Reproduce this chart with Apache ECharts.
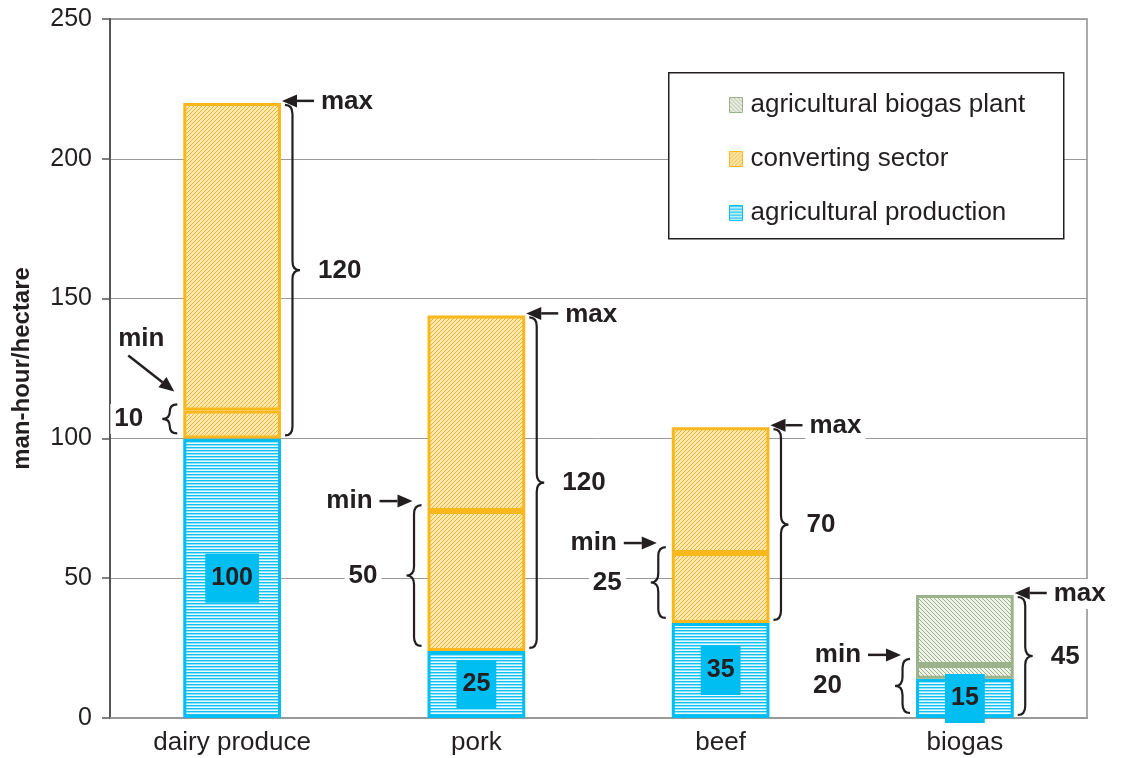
<!DOCTYPE html>
<html>
<head>
<meta charset="utf-8">
<script src="https://cdn.jsdelivr.net/npm/echarts@6/dist/echarts.min.js"></script>
<style>
    html, body { margin: 0; padding: 0; background: #fff; }
    #main { width: 1128px; height: 758px; }
</style>
</head>
<body>
<div id="main"></div>
<script>
// categories and stacked values
var categories = ['dairy produce', 'pork', 'beef', 'biogas'];
var agriProduction = [100, 24, 34, 14];
var convertingMin = [10, 50, 25, '-'];
var convertingRest = [110, 70, 45, '-'];
var biogasPlantMin = ['-', '-', '-', 5];
var biogasPlantRest = ['-', '-', '-', 25];

// texts written on the chart
var agriLabels = ['100', '25', '35', '15'];
var rangeLabels = ['120', '120', '70', '45'];
var minLabels = ['10', '50', '25', '20'];
// where the braces start (value)
var rangeFrom = [100, 24, 34, 0];
var minFrom = [100, 24, 34, 0];
var minArrowStyle = ['diagonal', 'side', 'side', 'side'];
var minLabelGap = [36, 46, 46, 70];

var ink = '#231f20';
var font = '"Liberation Sans", Arial, sans-serif';

function num(v) { return v === '-' ? 0 : v; }
var tops = categories.map(function (c, i) {
    return agriProduction[i] + num(convertingMin[i]) + num(convertingRest[i]) + num(biogasPlantMin[i]) + num(biogasPlantRest[i]);
});
var minVals = categories.map(function (c, i) {
    return agriProduction[i] + num(convertingMin[i]) + num(biogasPlantMin[i]);
});
var notes = categories.map(function (c, i) {
    return [i, tops[i], rangeFrom[i], minVals[i], minFrom[i]];
});

// little hatch patterns
function pattern(w, h, bg, fg, pts) {
    var cv = document.createElement('canvas');
    cv.width = w; cv.height = h;
    var ctx = cv.getContext('2d');
    ctx.fillStyle = bg;
    ctx.fillRect(0, 0, w, h);
    pts.forEach(function (p) {
        ctx.fillStyle = p[2] || fg;
        ctx.fillRect(p[0], p[1], 1, 1);
    });
    return { image: cv, repeat: 'repeat' };
}
var bluePat = pattern(1, 3, '#e6f9fe', '#10c1f2', [[0, 0], [0, 1, '#8fe2f9']]);
var orangePat = pattern(4, 4, '#fde8b6', '#f6b41f', [[0, 3], [1, 2], [2, 1], [3, 0]]);
var greenPat = pattern(4, 4, '#eef2e8', '#9cb08c', [[0, 0], [1, 1], [2, 2], [3, 3]]);

var blueBorder = '#00bdf2';
var orangeBorder = '#fbb81c';
var greenBorder = '#9bb28a';

function barSeries(name, data, fill, border) {
    return {
        name: name,
        type: 'bar',
        stack: 'total',
        barWidth: '40%',
        data: data,
        itemStyle: { color: fill, borderColor: border, borderWidth: 3 }
    };
}

// helpers for the annotations
function arrow(x1, y1, x2, y2) {
    var dx = x2 - x1, dy = y2 - y1, len = Math.sqrt(dx * dx + dy * dy);
    var ux = dx / len, uy = dy / len;
    var bx = x2 - ux * 15, by = y2 - uy * 15;
    return [
        { type: 'line', shape: { x1: x1, y1: y1, x2: bx, y2: by }, style: { stroke: ink, lineWidth: 2.5 } },
        { type: 'polygon', shape: { points: [[x2, y2], [bx - uy * 6.5, by + ux * 6.5], [bx + uy * 6.5, by - ux * 6.5]] }, style: { fill: ink } }
    ];
}
function brace(x, y1, y2, w, dir) {
    var r = Math.min(9, (y2 - y1) / 4);
    var m = x + dir * w / 2, t = x + dir * w, ym = (y1 + y2) / 2;
    var d = 'M' + x + ',' + y1 + ' Q' + m + ',' + y1 + ' ' + m + ',' + (y1 + r) +
        ' L' + m + ',' + (ym - r) + ' Q' + m + ',' + ym + ' ' + t + ',' + ym +
        ' Q' + m + ',' + ym + ' ' + m + ',' + (ym + r) +
        ' L' + m + ',' + (y2 - r) + ' Q' + m + ',' + y2 + ' ' + x + ',' + y2;
    return { type: 'path', shape: { pathData: d }, style: { fill: 'none', stroke: ink, lineWidth: 2.2 } };
}
function label(text, x, y, align) {
    return {
        type: 'text',
        style: {
            text: text, x: x, y: y, align: align, verticalAlign: 'middle',
            font: 'bold 26px ' + font, fill: ink,
            backgroundColor: '#fff', padding: [2, 4]
        }
    };
}

function renderNotes(params, api) {
    var i = params.dataIndex;
    var c = api.coord([api.value(0), api.value(1)]);
    var half = api.size([1, 0])[0] * 0.2;
    var left = c[0] - half, right = c[0] + half, yTop = c[1];
    var yFrom = api.coord([api.value(0), api.value(2)])[1];
    var yMin = api.coord([api.value(0), api.value(3)])[1];
    var yMinFrom = api.coord([api.value(0), api.value(4)])[1];
    var kids = [];
    kids = kids.concat(arrow(right + 33, yTop - 2, right + 1, yTop - 2));
    kids.push(label('max', right + 36, yTop - 1, 'left'));
    kids.push(brace(right + 4, yTop + 2, yFrom - 3, 15, 1));
    kids.push(label(rangeLabels[i], right + 33, (yTop + yFrom) / 2, 'left'));
    var b1 = yMin - 6, b2 = yMinFrom - 5;
    kids.push(brace(left - 6, b1, b2, 15, -1));
    kids.push(label(minLabels[i], left - minLabelGap[i], (b1 + b2) / 2, 'right'));
    if (minArrowStyle[i] === 'diagonal') {
        kids = kids.concat(arrow(left - 55, yMin - 55, left - 9, yMin - 19));
        kids.push(label('min', left - 42, yMin - 72, 'center'));
    } else {
        kids = kids.concat(arrow(left - 48, yMin - 10, left - 15, yMin - 10));
        kids.push(label('min', left - 51, yMin - 10, 'right'));
    }
    return { type: 'group', children: kids };
}

var myChart = echarts.init(document.getElementById('main'));
myChart.setOption({
    backgroundColor: '#fff',
    animation: false,
    grid: {
        left: 110, right: 41, top: 19, bottom: 40,
        show: true, borderColor: '#aaa', borderWidth: 2,
        outerBoundsMode: 'none'
    },
    legend: {
        orient: 'vertical',
        left: 724, top: 87,
        icon: 'rect',
        itemWidth: 13, itemHeight: 15,
        itemGap: 28,
        selectedMode: false,
        itemStyle: { borderWidth: 1 },
        textStyle: { fontSize: 26, color: ink, fontFamily: font, padding: [0, 0, 0, 3] },
        data: ['agricultural biogas plant', 'converting sector', 'agricultural production']
    },
    graphic: [{
        type: 'rect', left: 668, top: 72, z: 3,
        shape: { width: 395, height: 166 },
        style: { fill: '#fff', stroke: ink, lineWidth: 1.5 }
    }],
    xAxis: {
        type: 'category',
        data: categories,
        axisLine: { lineStyle: { color: '#999', width: 2 } },
        axisTick: { show: false },
        axisLabel: { fontSize: 26, color: ink, fontFamily: font, margin: 12 }
    },
    yAxis: {
        type: 'value',
        min: 0, max: 250, interval: 50,
        name: 'man-hour/hectare',
        nameLocation: 'middle',
        nameGap: 76,
        nameTextStyle: { fontSize: 24, fontWeight: 'bold', color: ink, fontFamily: font },
        axisLine: { show: true, lineStyle: { color: '#555', width: 2 } },
        axisTick: { show: true, length: 8, lineStyle: { color: '#555', width: 1.5 } },
        axisLabel: { fontSize: 25, color: ink, fontFamily: font, margin: 18 },
        splitLine: { lineStyle: { color: '#999', width: 1 } }
    },
    series: [
        Object.assign(barSeries('agricultural production', agriProduction, bluePat, blueBorder), {
            label: {
                show: true, position: 'inside',
                formatter: function (p) { return agriLabels[p.dataIndex]; },
                fontSize: 25, fontWeight: 'bold', color: ink, fontFamily: font,
                backgroundColor: '#00bdf2', padding: [12, 6]
            }
        }),
        barSeries('converting sector', convertingMin, orangePat, orangeBorder),
        barSeries('converting sector', convertingRest, orangePat, orangeBorder),
        barSeries('agricultural biogas plant', biogasPlantMin, greenPat, greenBorder),
        barSeries('agricultural biogas plant', biogasPlantRest, greenPat, greenBorder),
        {
            type: 'custom',
            z: 6,
            clip: false,
            silent: true,
            renderItem: renderNotes,
            data: notes
        }
    ]
});
</script>
</body>
</html>
